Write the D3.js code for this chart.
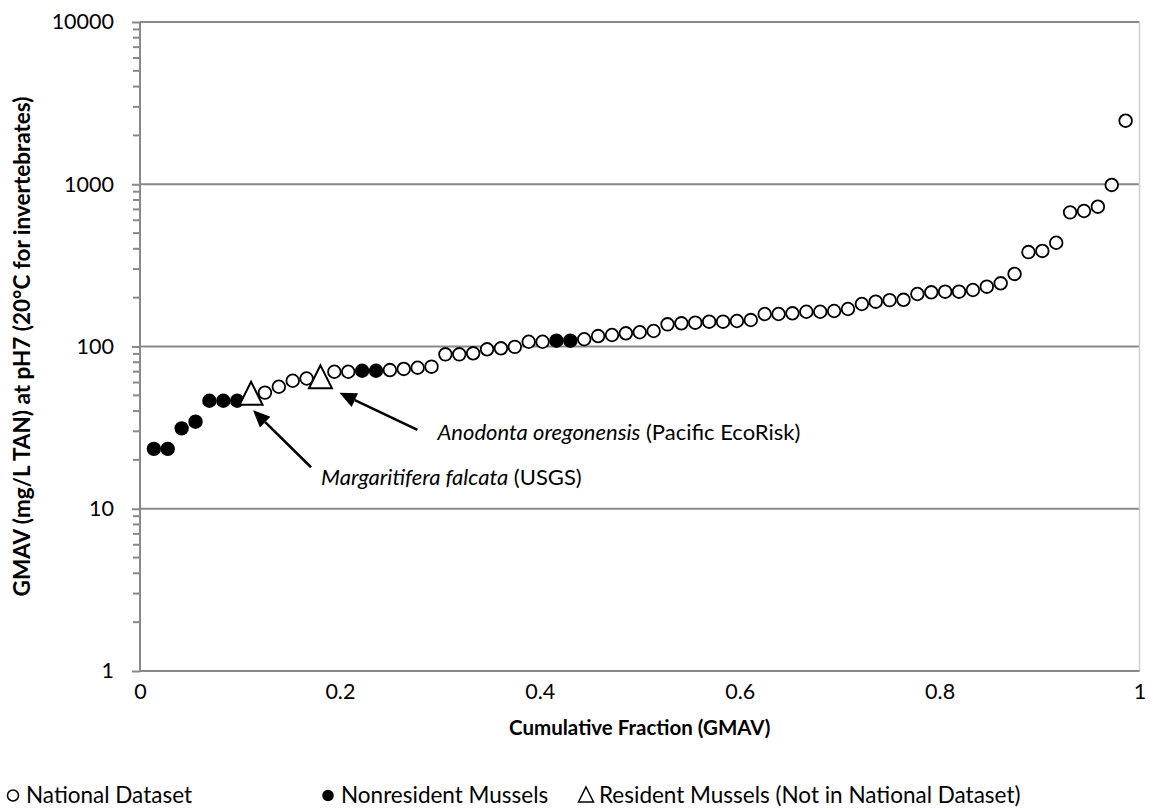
<!DOCTYPE html>
<html>
<head>
<meta charset="utf-8">
<script src="https://cdn.jsdelivr.net/npm/d3@7"></script>
<style>
  html, body { margin: 0; padding: 0; background: #fff; }
  svg { display: block; font-family: Lato, "Open Sans", sans-serif; }
</style>
</head>
<body>
<svg id="chart" width="1151" height="812"></svg>
<script>
// GMAV values (mg/L TAN at pH 7), in rank order (all species, ranked together)
const gmav = [
  23.4, 23.4, 31.3, 34.4, 46.3, 46.3, 46.3, 51.5, 52, 56.5,
  61.5, 63.5, 65, 69.9, 69.9, 70.9, 70.9, 71.6, 72.7, 74,
  75.1, 89.5, 89.5, 90.8, 96.1, 97.5, 99.5, 107, 107, 108.6,
  108.6, 110.8, 116, 117.7, 120.6, 122.4, 124.6, 137, 139, 140.2,
  142.2, 142.2, 143.6, 145.6, 158.6, 158.6, 160.2, 163.8, 163.8, 165.5,
  170.3, 182.8, 188.9, 193, 194, 210.7, 215.8, 217.7, 217.7, 222.9,
  233.7, 245.2, 280, 382, 388, 436, 671, 684, 727, 990,
  2464
];
// ranks (1-based) of the highlighted groups
const nonresidentRanks = [1, 2, 3, 4, 5, 6, 7, 16, 17, 30, 31];
const residentRanks = [8, 13];
const residentNames = ["Margaritifera falcata", "Anodonta oregonensis"];
const residentSources = [" (USGS)", " (Pacific EcoRisk)"];

const xTicks = [0, 0.2, 0.4, 0.6, 0.8, 1];
const yTicks = [1, 10, 100, 1000, 10000];
const legendLabels = ["National Dataset", "Nonresident Mussels", "Resident Mussels (Not in National Dataset)"];
const xTitle = "Cumulative Fraction (GMAV)";
const yTitle = "GMAV (mg/L TAN) at pH7 (20°C for invertebrates)";

const n = gmav.length;
const points = gmav.map((v, i) => {
  const rank = i + 1;
  let type = "national";
  if (nonresidentRanks.includes(rank)) type = "nonresident";
  if (residentRanks.includes(rank)) type = "resident";
  return { rank, frac: rank / (n + 1), value: v, type };
});

const svg = d3.select("#chart");
const x = d3.scaleLinear().domain([0, 1]).range([140, 1139.5]);
const y = d3.scaleLog().domain([1, 10000]).range([671, 22]);
const gridColor = "#898989";
const fs = 21.5;

// gridlines
svg.append("g").selectAll("line").data(yTicks.slice(1)).join("line")
  .attr("x1", x(0)).attr("x2", x(1))
  .attr("y1", d => y(d)).attr("y2", d => y(d))
  .attr("stroke", gridColor).attr("stroke-width", 2);

// right border
svg.append("line").attr("x1", x(1)).attr("x2", x(1)).attr("y1", y(10000)).attr("y2", y(1))
  .attr("stroke", "#d0d0d0").attr("stroke-width", 1.5);

// y axis
const yAxis = d3.axisLeft(y).tickValues(yTicks).tickFormat(d3.format("d")).tickSize(8).tickPadding(18);
const yg = svg.append("g").attr("transform", `translate(${x(0)},0)`).call(yAxis);
yg.select(".domain").attr("stroke", gridColor).attr("stroke-width", 2).attr("d", `M0,${y(10000)}V${y(1)}`);
yg.selectAll(".tick line").attr("stroke", gridColor).attr("stroke-width", 2);
yg.selectAll(".tick text").attr("font-size", fs).attr("font-family", "Lato").attr("fill", "#000");
// minor ticks
const minor = [];
for (let e = 0; e < 4; e++) for (let m = 2; m <= 9; m++) minor.push(m * Math.pow(10, e));
svg.append("g").selectAll("line").data(minor).join("line")
  .attr("x1", x(0) - 7).attr("x2", x(0))
  .attr("y1", d => y(d)).attr("y2", d => y(d))
  .attr("stroke", gridColor).attr("stroke-width", 2);

// x axis
const xAxis = d3.axisBottom(x).tickValues(xTicks).tickFormat(d => d3.format("")(d)).tickSize(0).tickPadding(13);
const xg = svg.append("g").attr("transform", `translate(0,${y(1)})`).call(xAxis);
xg.select(".domain").attr("stroke", gridColor).attr("stroke-width", 2).attr("d", `M${x(0)},0H${x(1)}`);
xg.selectAll(".tick text").attr("font-size", fs).attr("font-family", "Lato").attr("fill", "#000");

// axis titles
svg.append("text").attr("x", (x(0) + x(1)) / 2).attr("y", 735)
  .attr("text-anchor", "middle").attr("font-weight", "bold").attr("font-size", 20.5).text(xTitle);
svg.append("text").attr("transform", `translate(30,${(y(1) + y(10000)) / 2}) rotate(-90)`)
  .attr("text-anchor", "middle").attr("font-weight", "bold").attr("font-size", 22.5).text(yTitle);

// markers
const plot = svg.append("g");
plot.selectAll("circle.nat").data(points.filter(p => p.type !== "resident")).join("circle")
  .attr("cx", d => x(d.frac)).attr("cy", d => y(d.value)).attr("r", 6.3)
  .attr("fill", d => d.type === "nonresident" ? "#000" : "#fff")
  .attr("stroke", "#000").attr("stroke-width", 1.8);
plot.selectAll("path.res").data(points.filter(p => p.type === "resident")).join("path")
  .attr("d", "M0,-11.5L11.5,11.5L-11.5,11.5Z")
  .attr("transform", d => `translate(${x(d.frac)},${y(d.value)})`)
  .attr("fill", "#fff").attr("stroke", "#000").attr("stroke-width", 2);

// annotations
const res = points.filter(p => p.type === "resident");
const annot = [
  { p: res[0], tip: [2, 17], tail: [60, 74], tx: 70, ty: 92, name: residentNames[0], src: residentSources[0] },
  { p: res[1], tip: [19, 16], tail: [97, 53], tx: 117, ty: 63, name: residentNames[1], src: residentSources[1] }
];
annot.forEach(a => {
  const px = x(a.p.frac), py = y(a.p.value);
  const x1 = px + a.tail[0], y1 = py + a.tail[1], x2 = px + a.tip[0], y2 = py + a.tip[1];
  const ang = Math.atan2(y2 - y1, x2 - x1);
  const L = 17, W = 7.5;
  const bx = x2 - L * Math.cos(ang), by = y2 - L * Math.sin(ang);
  svg.append("line").attr("x1", x1).attr("y1", y1).attr("x2", bx).attr("y2", by)
    .attr("stroke", "#000").attr("stroke-width", 2.5);
  svg.append("path").attr("d", `M${x2},${y2}L${bx - W * Math.sin(ang)},${by + W * Math.cos(ang)}L${bx + W * Math.sin(ang)},${by - W * Math.cos(ang)}Z`)
    .attr("fill", "#000");
  const t = svg.append("text").attr("x", px + a.tx).attr("y", py + a.ty).attr("font-size", 22);
  t.append("tspan").attr("font-style", "italic").text(a.name);
  t.append("tspan").text(a.src);
});

// legend
const lg = svg.append("g").attr("transform", "translate(0,803)");
const legX = [13, 328, 586];
legendLabels.forEach((lab, i) => {
  const g = lg.append("g").attr("transform", `translate(${legX[i]},0)`);
  if (i === 0) g.append("circle").attr("cx", 0).attr("cy", -7.5).attr("r", 5.5).attr("fill", "#fff").attr("stroke", "#000").attr("stroke-width", 1.5);
  if (i === 1) g.append("circle").attr("cx", 0).attr("cy", -7.5).attr("r", 5.8).attr("fill", "#000");
  if (i === 2) g.append("path").attr("d", "M0,-16L7.5,-1L-7.5,-1Z").attr("fill", "#fff").attr("stroke", "#000").attr("stroke-width", 1.5);
  g.append("text").attr("x", 13).attr("y", 0).attr("font-size", 22.5).text(lab);
});
</script>
</body>
</html>
